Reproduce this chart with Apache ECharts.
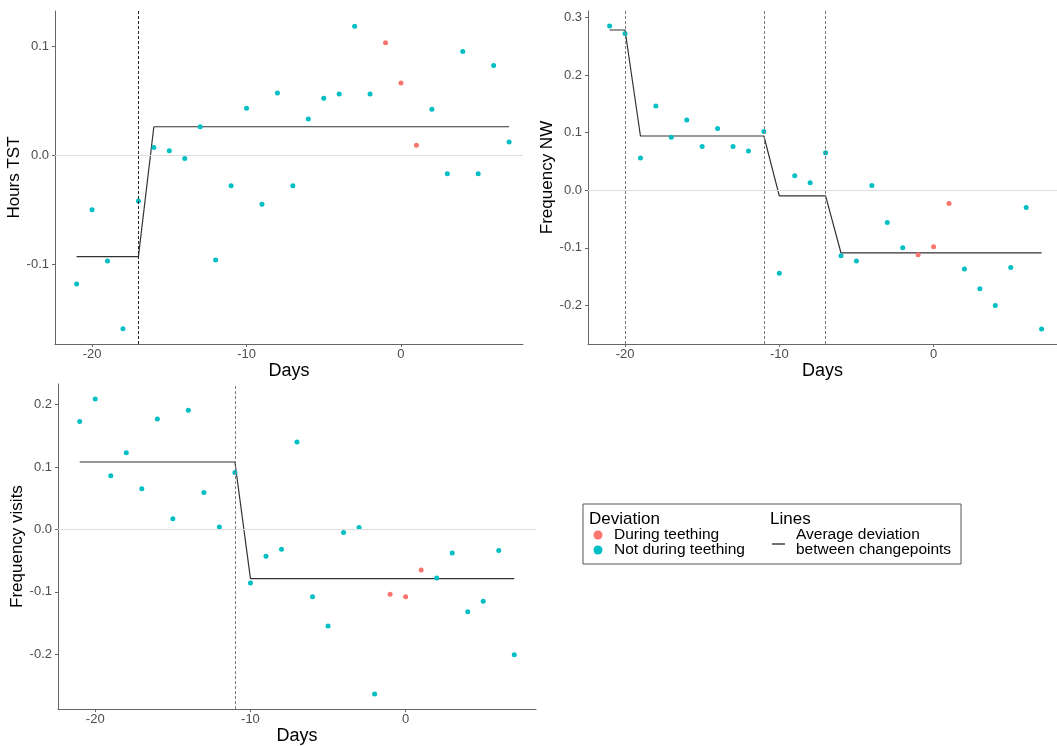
<!DOCTYPE html>
<html>
<head>
<meta charset="utf-8">
<script src="https://cdn.jsdelivr.net/npm/echarts@6/dist/echarts.min.js"></script>
<style>
    html, body { margin: 0; padding: 0; background: #fff; }
    #chart { width: 1057px; height: 746px; }
</style>
</head>
<body>
<div id="chart"></div>
<script>
// days relative to teething
var days = [-21, -20, -19, -18, -17, -16, -15, -14, -13, -12, -11, -10, -9, -8,
    -7, -6, -5, -4, -3, -2, -1, 0, 1, 2, 3, 4, 5, 6, 7];
var teethingDays = [-1, 0, 1];

// deviations per day
var hoursTST = [-0.118, -0.050, -0.097, -0.159, -0.042, 0.007, 0.004, -0.003, 0.026, -0.096,
    -0.028, 0.043, -0.045, 0.057, -0.028, 0.033, 0.052, 0.056, 0.118, 0.056,
    0.103, 0.066, 0.009, 0.042, -0.017, 0.095, -0.017, 0.082, 0.012];
var freqNW = [0.285, 0.272, 0.056, 0.146, 0.092, 0.122, 0.076, 0.107, 0.076, 0.068,
    0.102, -0.144, 0.025, 0.013, 0.065, -0.114, -0.123, 0.008, -0.056, -0.100,
    -0.112, -0.098, -0.023, -0.137, -0.171, -0.200, -0.134, -0.030, -0.241];
var freqVisits = [0.173, 0.209, 0.086, 0.123, 0.065, 0.177, 0.017, 0.191, 0.059, 0.004,
    0.091, -0.086, -0.043, -0.032, 0.140, -0.108, -0.155, -0.005, 0.003, -0.264,
    -0.104, -0.108, -0.065, -0.078, -0.038, -0.132, -0.115, -0.034, -0.201];

// average deviation between changepoints: [first day, last day, mean]
var tstSegments = [[-21, -17, -0.093], [-16, 7, 0.026]];
var nwSegments = [[-21, -20, 0.278], [-19, -11, 0.094], [-10, -7, -0.010], [-6, 7, -0.109]];
var visitsSegments = [[-21, -11, 0.108], [-10, 7, -0.079]];

// changepoints
var tstChangepoints = [-17];
var nwChangepoints = [-20, -11, -7];
var visitsChangepoints = [-11];

// tick labels
var dayTicks = [-20, -10, 0];
var tstTicks = [-0.1, 0.0, 0.1];
var nwTicks = [-0.2, -0.1, 0.0, 0.1, 0.2, 0.3];
var visitsTicks = [-0.2, -0.1, 0.0, 0.1, 0.2];

var RED = '#F8766D';
var TEAL = '#00BFC4';
var FONT = '"Liberation Sans", Arial, sans-serif';

var panels = [
    { title: 'Hours TST', values: hoursTST, segments: tstSegments, cps: tstChangepoints, ticks: tstTicks,
      grid: { left: 55, top: 11, width: 468, height: 333 }, xMax: 7.9, yMin: -0.173, yMax: 0.132,
      cpColor: '#222', nameGap: 27 },
    { title: 'Frequency NW', values: freqNW, segments: nwSegments, cps: nwChangepoints, ticks: nwTicks,
      grid: { left: 588, top: 11, width: 469, height: 333 }, xMax: 8.0, yMin: -0.267, yMax: 0.311,
      cpColor: '#777', nameGap: 27 },
    { title: 'Frequency visits', values: freqVisits, segments: visitsSegments, cps: visitsChangepoints, ticks: visitsTicks,
      grid: { left: 58, top: 384, width: 478, height: 335 }, xMax: 8.4, yMin: -0.288, yMax: 0.233,
      cpColor: '#777', nameGap: 31 }
];

var grids = [], xAxes = [], yAxes = [], series = [];

panels.forEach(function (p, i) {
    grids.push(p.grid);

    xAxes.push({
        type: 'value', gridIndex: i, min: -22.4, max: p.xMax,
        name: 'Days', nameLocation: 'middle', nameGap: 15,
        nameTextStyle: { fontSize: 18, color: '#000', fontFamily: FONT },
        axisLine: { onZero: false, lineStyle: { color: '#666', width: 1 } },
        axisTick: { show: true, length: 3, customValues: dayTicks, lineStyle: { color: '#666' } },
        axisLabel: { customValues: dayTicks, margin: 4, fontSize: 13, color: '#4d4d4d', fontFamily: FONT },
        splitLine: { show: false }
    });

    yAxes.push({
        type: 'value', gridIndex: i, min: p.yMin, max: p.yMax,
        name: p.title, nameLocation: 'middle', nameGap: p.nameGap, nameRotate: 90,
        nameTextStyle: { fontSize: 17, color: '#000', fontFamily: FONT },
        axisLine: { show: true, onZero: false, lineStyle: { color: '#666', width: 1 } },
        axisTick: { show: true, length: 3, customValues: p.ticks, lineStyle: { color: '#666' } },
        axisLabel: {
            customValues: p.ticks, margin: 6, fontSize: 13, color: '#4d4d4d', fontFamily: FONT,
            formatter: function (v) { return v.toFixed(1); }
        },
        splitLine: { show: false }
    });

    // average deviation line, with the zero line and changepoints as mark lines
    var lineData = [];
    p.segments.forEach(function (s) {
        lineData.push([s[0], s[2]]);
        lineData.push([s[1], s[2]]);
    });
    var marks = [{ yAxis: 0, lineStyle: { color: '#dedede', width: 1, type: 'solid' } }];
    p.cps.forEach(function (d) {
        marks.push({ xAxis: d, lineStyle: { color: p.cpColor, width: 1, type: [3, 2] } });
    });
    series.push({
        type: 'line', xAxisIndex: i, yAxisIndex: i, data: lineData,
        showSymbol: false, silent: true, z: 3,
        lineStyle: { color: '#333', width: 1.2 },
        markLine: { symbol: 'none', silent: true, label: { show: false }, data: marks }
    });

    var teeth = [], notTeeth = [];
    days.forEach(function (d, k) {
        if (teethingDays.indexOf(d) >= 0) teeth.push([d, p.values[k]]);
        else notTeeth.push([d, p.values[k]]);
    });
    series.push({
        type: 'scatter', xAxisIndex: i, yAxisIndex: i, data: notTeeth, name: 'Not during teething',
        symbolSize: 5, itemStyle: { color: TEAL, opacity: 1 }, z: 4
    });
    series.push({
        type: 'scatter', xAxisIndex: i, yAxisIndex: i, data: teeth, name: 'During teething',
        symbolSize: 5, itemStyle: { color: RED, opacity: 1 }, z: 4
    });
});

// legend box
var legend = [
    { type: 'rect', shape: { x: 583, y: 504, width: 378, height: 60 },
      style: { fill: '#fff', stroke: '#555', lineWidth: 1 } },
    { type: 'text', x: 589, y: 519, style: { text: 'Deviation', fontSize: 17, fontFamily: FONT, fill: '#000', verticalAlign: 'middle' } },
    { type: 'circle', shape: { cx: 598, cy: 535, r: 4.5 }, style: { fill: RED } },
    { type: 'text', x: 614, y: 535, style: { text: 'During teething', fontSize: 15.5, fontFamily: FONT, fill: '#000', verticalAlign: 'middle' } },
    { type: 'circle', shape: { cx: 598, cy: 550, r: 4.5 }, style: { fill: TEAL } },
    { type: 'text', x: 614, y: 550, style: { text: 'Not during teething', fontSize: 15.5, fontFamily: FONT, fill: '#000', verticalAlign: 'middle' } },
    { type: 'text', x: 770, y: 519, style: { text: 'Lines', fontSize: 17, fontFamily: FONT, fill: '#000', verticalAlign: 'middle' } },
    { type: 'line', shape: { x1: 772, y1: 544, x2: 785, y2: 544 }, style: { stroke: '#222', lineWidth: 1.3 } },
    { type: 'text', x: 796, y: 535, style: { text: 'Average deviation', fontSize: 15.5, fontFamily: FONT, fill: '#000', verticalAlign: 'middle' } },
    { type: 'text', x: 796, y: 550, style: { text: 'between changepoints', fontSize: 15.5, fontFamily: FONT, fill: '#000', verticalAlign: 'middle' } }
];

var chart = echarts.init(document.getElementById('chart'), null, { renderer: 'canvas' });
chart.setOption({
    animation: false,
    backgroundColor: '#fff',
    textStyle: { fontFamily: FONT },
    grid: grids,
    xAxis: xAxes,
    yAxis: yAxes,
    series: series,
    graphic: legend
});
</script>
</body>
</html>
